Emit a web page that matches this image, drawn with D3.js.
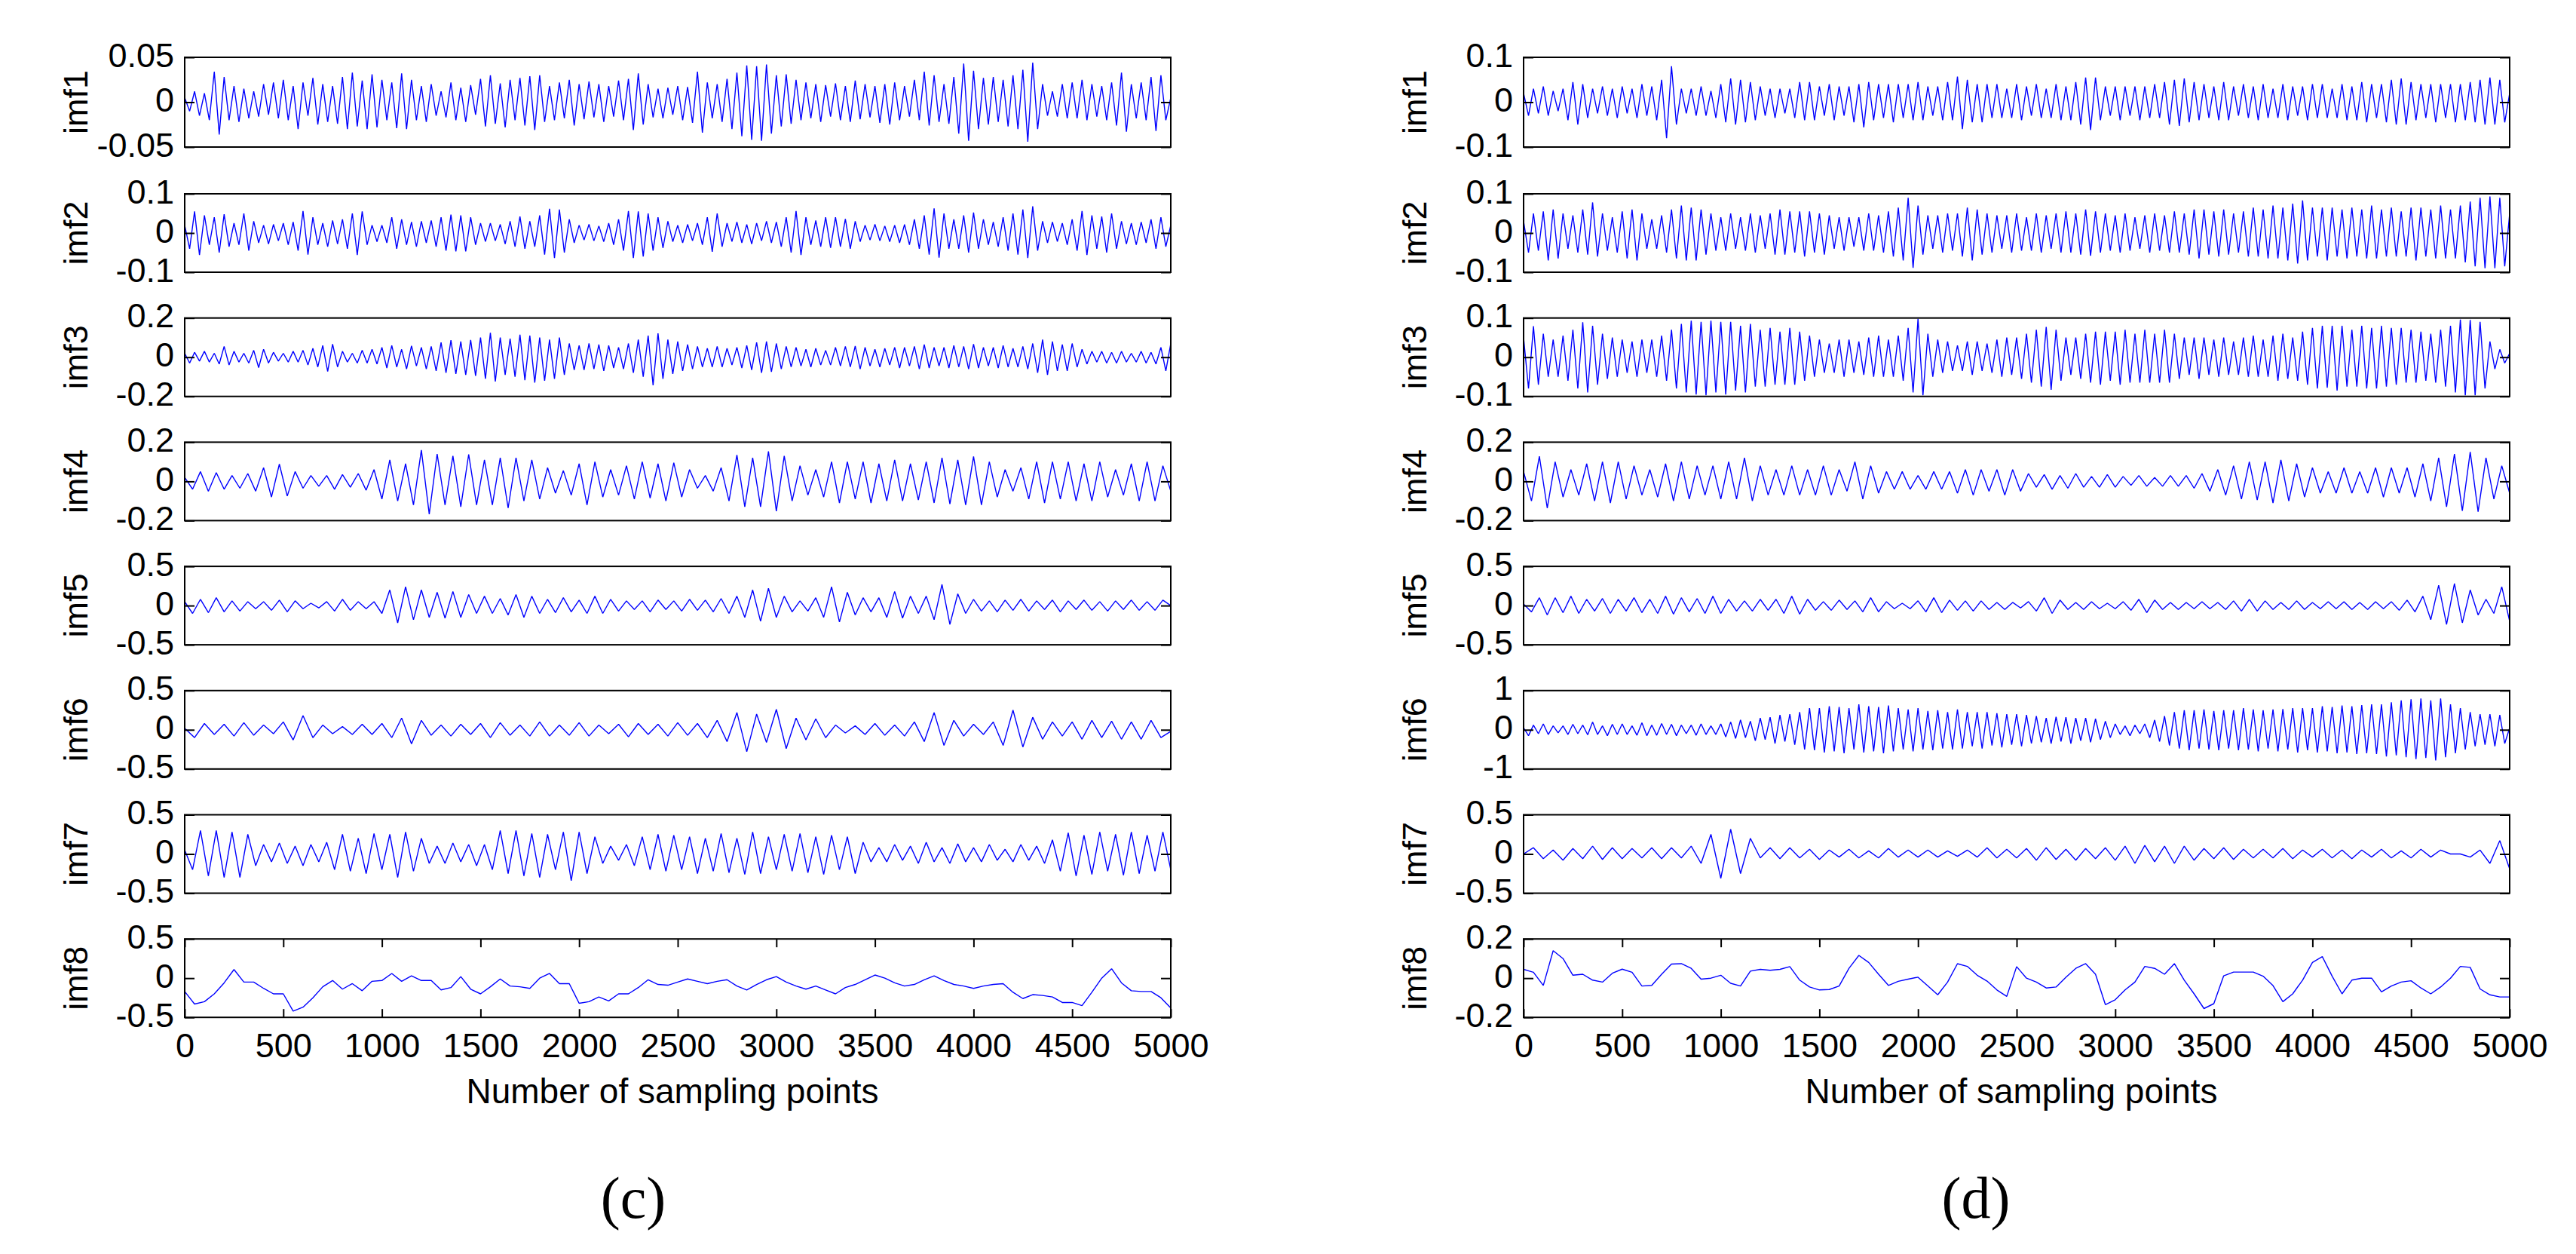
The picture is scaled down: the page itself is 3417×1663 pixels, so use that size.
<!DOCTYPE html>
<html>
<head>
<meta charset="utf-8">
<script src="https://cdn.jsdelivr.net/npm/d3@7"></script>
<style>
  body { margin: 0; background: #fff; }
</style>
</head>
<body>
<div id="chart"></div>
<script>
// DATOS
//////////////////////////////////////////////////////////
var imfNames = ["imf1","imf2","imf3","imf4","imf5","imf6","imf7","imf8"];
var xTicks = [0,500,1000,1500,2000,2500,3000,3500,4000,4500,5000];
var nSamples = 5000;
var xLabel = "Number of sampling points";

// limites del eje y (+-lim) de cada imf
var limC = [0.05,0.1,0.2,0.2,0.5,0.5,0.5,0.5];
var limD = [0.1,0.1,0.1,0.2,0.5,1,0.5,0.2];

// (c) valores, muestras equiespaciadas de 0 a 5000
var c_imf1 = [.005,-.01,.012,-.015,.01,-.02,.034,-.036,.028,-.02,.018,-.022,.015,-.018,.012,-.016,.02,-.014,.022,-.018,
.025,-.02,.018,-.03,.022,-.015,.027,-.025,.02,-.022,.018,-.024,.028,-.03,.033,-.027,.024,-.03,.031,-.028,
.025,-.02,.022,-.029,.032,-.03,.025,-.02,.018,-.022,.02,-.015,.012,-.017,.022,-.02,.016,-.022,.019,-.014,
.026,-.027,.03,-.024,.021,-.028,.025,-.02,.027,-.026,.029,-.031,.03,-.022,.018,-.02,.022,-.018,.025,-.026,
.02,-.019,.023,-.017,.02,-.022,.018,-.016,.024,-.02,.026,-.031,.032,-.025,.02,-.017,.015,-.018,.016,-.014,
.018,-.02,.017,-.023,.034,-.034,.022,-.018,.02,-.022,.026,-.03,.033,-.038,.041,-.042,.04,-.043,.042,-.035,
.03,-.027,.031,-.024,.025,-.02,.022,-.018,.02,-.022,.019,-.016,.021,-.02,.018,-.022,.024,-.019,.02,-.017,
.018,-.023,.02,-.025,.022,-.02,.018,-.016,.025,-.02,.034,-.026,.03,-.022,.02,-.024,.028,-.035,.043,-.043,
.035,-.03,.027,-.025,.028,-.022,.025,-.027,.03,-.03,.036,-.044,.044,-.03,.02,-.015,.012,-.016,.02,-.018,
.022,-.018,.025,-.02,.02,-.016,.018,-.02,.022,-.026,.033,-.033,.02,-.018,.022,-.02,.028,-.032,.03,-.02,
.005];
var c_imf2 = [.02,-.04,.055,-.056,.045,-.03,.04,-.05,.048,-.035,.025,-.03,.05,-.045,.03,-.025,.02,-.028,.022,-.02,
.025,-.03,.028,-.045,.056,-.055,.04,-.03,.025,-.035,.032,-.028,.035,-.04,.05,-.056,.055,-.03,.02,-.022,
.02,-.025,.04,-.04,.035,-.03,.028,-.035,.03,-.025,.032,-.035,.04,-.045,.047,-.047,.045,-.047,.04,-.03,
.025,-.022,.025,-.02,.022,-.028,.03,-.035,.042,-.04,.03,-.035,.045,-.055,.062,-.064,.06,-.05,.035,-.025,
.02,-.018,.022,-.02,.018,-.022,.025,-.03,.035,-.045,.056,-.064,.055,-.06,.05,-.045,.04,-.038,.03,-.022,
.02,-.025,.022,-.02,.025,-.03,.04,-.048,.05,-.035,.025,-.022,.028,-.025,.022,-.028,.025,-.02,.03,-.025,
.028,-.035,.04,-.05,.056,-.056,.04,-.03,.032,-.035,.04,-.038,.04,-.035,.036,-.04,.03,-.022,.02,-.018,
.022,-.02,.018,-.022,.02,-.025,.022,-.03,.035,-.04,.045,-.055,.063,-.063,.05,-.04,.035,-.04,.045,-.05,
.052,-.04,.035,-.03,.028,-.035,.04,-.045,.05,-.055,.06,-.064,.068,-.045,.03,-.025,.028,-.022,.025,-.03,
.035,-.045,.056,-.056,.045,-.04,.042,-.05,.05,-.04,.03,-.028,.025,-.03,.028,-.025,.035,-.04,.04,-.035,
.02];
var c_imf3 = [.02,-.03,.025,-.02,.03,-.025,.02,-.035,.055,-.04,.03,-.025,.02,-.03,.035,-.053,.04,-.03,.025,-.02,
.02,-.025,.03,-.025,.035,-.04,.045,-.05,.06,-.073,.067,-.05,.03,-.025,.02,-.03,.035,-.03,.04,-.035,
.05,-.055,.06,-.05,.04,-.06,.058,-.045,.05,-.06,.055,-.07,.075,-.08,.087,-.085,.08,-.09,.088,-.095,
.1,-.11,.125,-.124,.1,-.09,.095,-.1,.115,-.117,.11,-.13,.1,-.12,.09,-.11,.1,-.09,.07,-.065,
.06,-.065,.07,-.06,.065,-.07,.06,-.055,.05,-.06,.07,-.08,.09,-.1,.11,-.143,.122,-.11,.09,-.085,
.08,-.07,.065,-.06,.055,-.05,.045,-.05,.055,-.05,.045,-.04,.05,-.055,.06,-.065,.075,-.08,.08,-.075,
.07,-.06,.055,-.05,.05,-.045,.04,-.05,.045,-.04,.035,-.04,.05,-.045,.055,-.05,.057,-.06,.05,-.045,
.04,-.05,.045,-.04,.05,-.055,.05,-.045,.055,-.06,.065,-.055,.05,-.045,.05,-.055,.06,-.05,.055,-.06,
.067,-.055,.05,-.045,.05,-.055,.06,-.05,.045,-.05,.055,-.06,.07,-.08,.09,-.09,.08,-.07,.065,-.07,
.07,-.05,.04,-.035,.03,-.025,.03,-.03,.025,-.03,.03,-.025,.02,-.025,.03,-.03,.025,-.035,.05,-.07,
.07];
var c_imf4 = [.02,-.04,.05,-.05,.045,-.04,.03,-.035,.04,-.05,.07,-.08,.088,-.075,.05,-.035,.03,-.025,.03,-.04,.035,-.03,.04,-.045,.06,
-.09,.11,-.1,.09,-.12,.16,-.167,.14,-.12,.13,-.13,.138,-.12,.11,-.12,.12,-.136,.12,-.1,.11,-.09,.07,-.06,.055,-.07,
.09,-.12,.1,-.08,.06,-.07,.08,-.09,.1,-.085,.09,-.1,.095,-.08,.06,-.035,.03,-.05,.07,-.1,.135,-.13,.12,-.13,.153,
-.152,.13,-.1,.08,-.07,.06,-.08,.1,-.11,.1,-.09,.1,-.11,.09,-.1,.11,-.1,.09,-.095,.1,-.11,.12,-.115,.11,-.12,
.127,-.12,.1,-.08,.06,-.05,.07,-.09,.1,-.11,.1,-.09,.1,-.1,.09,-.1,.1,-.08,.06,-.07,.09,-.1,.1,-.1,.08,
-.05];
var c_imf5 = [.05,-.1,.08,-.09,.1,-.08,.06,-.07,.05,-.04,.05,-.06,.07,-.08,.06,-.04,.03,-.03,.05,-.07,.08,-.06,.05,-.04,.05,
-.1,.2,-.22,.24,-.18,.2,-.15,.17,-.16,.18,-.15,.14,-.1,.12,-.1,.09,-.12,.14,-.15,.12,-.1,.08,-.09,.1,-.08,
.07,-.1,.12,-.1,.08,-.07,.06,-.05,.06,-.08,.07,-.05,.06,-.07,.08,-.06,.07,-.08,.09,-.1,.12,-.15,.2,-.2,.22,
-.15,.12,-.08,.06,-.07,.1,-.15,.24,-.21,.17,-.12,.1,-.08,.1,-.15,.18,-.16,.12,-.1,.12,-.18,.27,-.24,.15,-.1,
.08,-.07,.06,-.08,.07,-.06,.08,-.07,.06,-.05,.07,-.08,.06,-.05,.07,-.06,.05,-.07,.06,-.05,.07,-.06,.05,-.06,.07,
0];
var c_imf6 = [.02,-.1,.08,-.06,.07,-.08,.09,-.07,.06,-.05,.1,-.13,.18,-.1,.06,-.05,.04,-.06,.07,-.06,
.08,-.1,.15,-.18,.12,-.07,.06,-.08,.07,-.06,.08,-.1,.09,-.07,.06,-.08,.1,-.08,.06,-.07,
.09,-.08,.06,-.05,.07,-.09,.08,-.06,.07,-.08,.09,-.07,.08,-.1,.12,-.15,.22,-.28,.2,-.16,
.26,-.24,.15,-.13,.14,-.1,.06,-.04,.05,-.06,.08,-.07,.06,-.08,.1,-.15,.22,-.2,.12,-.08,
.07,-.06,.1,-.2,.25,-.22,.16,-.12,.1,-.08,.1,-.12,.12,-.1,.11,-.12,.1,-.12,.12,-.1,
-.02];
var c_imf7 = [.05,-.2,.3,-.28,.3,-.3,.28,-.3,.25,-.15,.12,-.1,.14,-.12,.1,-.15,.12,-.1,.15,-.2,.25,-.22,.2,-.25,.26,
-.2,.25,-.3,.28,-.22,.2,-.12,.1,-.12,.14,-.1,.12,-.15,.12,-.2,.3,-.25,.3,-.28,.26,-.3,.25,-.2,.28,-.34,
.28,-.25,.22,-.12,.1,-.08,.12,-.15,.22,-.2,.25,-.22,.24,-.2,.22,-.25,.2,-.22,.26,-.24,.2,-.26,.28,-.25,.22,
-.2,.25,-.22,.26,-.24,.22,-.26,.24,-.2,.22,-.25,.15,-.1,.08,-.1,.12,-.08,.1,-.12,.15,-.1,.08,-.12,.13,-.1,
.08,-.1,.12,-.08,.06,-.1,.12,-.08,.1,-.12,.18,-.22,.27,-.28,.24,-.26,.28,-.22,.25,-.27,.28,-.25,.24,-.22,.28,
-.2];
var c_imf8 = [-.17,-.33,-.3,-.2,-.06,.11,-.05,-.05,-.13,-.2,-.2,-.42,-.37,-.25,-.11,-.03,-.14,-.07,-.16,-.04,
-.03,.06,-.04,.03,-.03,-.03,-.15,-.12,.02,-.14,-.2,-.11,-.01,-.1,-.11,-.13,0,.06,-.07,-.07,
-.32,-.3,-.24,-.29,-.2,-.2,-.12,-.02,-.08,-.09,-.05,-.01,-.04,-.07,-.04,-.02,-.1,-.15,-.08,-.02,
.02,-.05,-.1,-.14,-.1,-.15,-.2,-.12,-.08,-.02,.04,0,-.06,-.1,-.08,-.02,.03,-.03,-.08,-.1,
-.13,-.1,-.08,-.07,-.18,-.26,-.21,-.22,-.24,-.31,-.31,-.35,-.18,0,.12,-.06,-.16,-.17,-.17,-.25,
-.38];

// (d)
var d_imf1 = [.02,-.03,.03,-.025,.035,-.03,.025,-.02,.03,-.04,.045,-.05,.04,-.035,.03,-.025,.035,-.03,.03,-.035,
.035,-.025,.03,-.035,.04,-.03,.035,-.04,.05,-.08,.08,-.05,.03,-.025,.03,-.03,.035,-.03,.025,-.035,
.04,-.045,.053,-.05,.05,-.045,.045,-.04,.035,-.03,.03,-.035,.03,-.025,.03,-.035,.045,-.04,.045,-.04,
.035,-.03,.04,-.04,.035,-.03,.035,-.045,.04,-.056,.045,-.04,.04,-.035,.04,-.045,.04,-.035,.04,-.04,
.045,-.04,.035,-.03,.035,-.04,.045,-.04,.057,-.06,.05,-.045,.04,-.045,.04,-.035,.04,-.035,.03,-.035,
.04,-.04,.035,-.03,.04,-.035,.03,-.035,.04,-.04,.035,-.04,.045,-.05,.055,-.062,.055,-.04,.035,-.03,
.035,-.04,.035,-.03,.035,-.04,.035,-.035,.04,-.035,.045,-.05,.05,-.053,.053,-.045,.045,-.04,.04,-.035,
.035,-.04,.045,-.04,.035,-.03,.04,-.035,.035,-.04,.04,-.035,.03,-.035,.04,-.04,.035,-.03,.035,-.04,
.04,-.035,.04,-.035,.03,-.035,.04,-.04,.035,-.04,.045,-.045,.04,-.035,.04,-.045,.05,-.05,.053,-.05,
.045,-.04,.04,-.035,.04,-.045,.04,-.035,.04,-.045,.04,-.04,.045,-.045,.05,-.05,.055,-.05,.05,-.045,
.02];
var d_imf2 = [.03,-.05,.05,-.045,.055,-.07,.06,-.065,.05,-.04,.045,-.05,.06,-.055,.078,-.06,.05,-.045,.04,-.05,
.055,-.065,.06,-.07,.05,-.04,.035,-.04,.045,-.05,.06,-.065,.07,-.07,.065,-.07,.06,-.055,.05,-.045,
.04,-.045,.05,-.04,.04,-.045,.05,-.05,.045,-.04,.05,-.055,.06,-.055,.055,-.05,.055,-.06,.055,-.05,
.05,-.055,.045,-.04,.04,-.045,.04,-.035,.04,-.045,.05,-.045,.045,-.05,.055,-.06,.065,-.07,.09,-.089,
.07,-.055,.045,-.04,.045,-.05,.05,-.045,.05,-.06,.065,-.07,.06,-.055,.05,-.05,.045,-.04,.045,-.05,
.05,-.045,.04,-.045,.05,-.05,.045,-.04,.05,-.05,.055,-.05,.05,-.055,.06,-.058,.055,-.05,.05,-.045,
.045,-.05,.05,-.045,.04,-.04,.045,-.05,.05,-.045,.045,-.05,.055,-.05,.05,-.055,.06,-.065,.06,-.055,
.055,-.06,.06,-.055,.05,-.05,.055,-.06,.065,-.06,.06,-.065,.07,-.065,.065,-.07,.075,-.078,.083,-.07,
.065,-.06,.065,-.07,.065,-.06,.06,-.065,.065,-.06,.06,-.065,.07,-.065,.06,-.06,.065,-.06,.055,-.06,
.065,-.07,.065,-.06,.06,-.065,.07,-.065,.06,-.065,.07,-.075,.08,-.085,.09,-.09,.093,-.09,.09,-.085,
.05];
var d_imf3 = [.05,-.08,.079,-.07,.06,-.05,.045,-.05,.055,-.06,.07,-.08,.089,-.09,.08,-.07,.06,-.055,.05,-.05,
.045,-.04,.04,-.05,.045,-.04,.045,-.05,.055,-.06,.07,-.08,.085,-.09,.093,-.095,.09,-.097,.093,-.09,
.09,-.095,.09,-.085,.08,-.09,.085,-.075,.07,-.075,.075,-.07,.065,-.07,.075,-.07,.065,-.06,.055,-.05,
.045,-.04,.035,-.04,.045,-.05,.045,-.04,.04,-.045,.05,-.05,.055,-.05,.045,-.05,.055,-.06,.075,-.09,
.098,-.097,.06,-.05,.045,-.04,.04,-.035,.03,-.035,.04,-.045,.04,-.035,.035,-.04,.045,-.05,.05,-.045,
.05,-.055,.06,-.065,.07,-.075,.077,-.083,.07,-.06,.05,-.045,.05,-.055,.06,-.065,.065,-.07,.065,-.06,
.065,-.07,.07,-.065,.06,-.065,.07,-.065,.06,-.065,.07,-.065,.06,-.055,.05,-.045,.05,-.055,.05,-.045,
.045,-.05,.05,-.045,.04,-.045,.05,-.05,.055,-.05,.045,-.05,.055,-.06,.06,-.055,.05,-.06,.065,-.07,
.075,-.08,.08,-.078,.08,-.085,.08,-.075,.07,-.075,.08,-.08,.075,-.08,.08,-.075,.075,-.07,.075,-.065,
.07,-.065,.065,-.06,.06,-.065,.07,-.075,.08,-.09,.096,-.097,.095,-.097,.09,-.08,.04,-.03,.02,-.015,
.01];
var d_imf4 = [.05,-.1,.128,-.136,.1,-.08,.06,-.07,.09,-.1,.1,-.11,.1,-.09,.08,-.07,.06,-.08,.09,-.1,.1,-.09,.08,-.07,.08,
-.09,.1,-.09,.12,-.1,.08,-.07,.06,-.07,.08,-.07,.06,-.07,.08,-.07,.06,-.05,.1,-.09,.08,-.06,.05,-.04,.05,-.04,
.03,-.04,.05,-.04,.05,-.06,.06,-.07,.06,-.05,.06,-.07,.06,-.05,.04,-.03,.035,-.04,.03,-.035,.04,-.03,.025,-.03,.035,
-.03,.025,-.02,.03,-.025,.02,-.025,.03,-.025,.03,-.035,.04,-.05,.06,-.07,.08,-.09,.1,-.095,.1,-.11,.11,-.1,.09,-.08,
.07,-.06,.05,-.06,.07,-.06,.05,-.06,.07,-.08,.07,-.06,.07,-.08,.09,-.1,.12,-.13,.14,-.15,.15,-.155,.12,-.09,.08,
-.06];
var d_imf5 = [.02,-.08,.1,-.12,.1,-.09,.12,-.1,.08,-.07,.09,-.1,.08,-.07,.1,-.09,.08,-.1,.12,-.11,.1,-.08,.09,-.1,.12,
-.1,.08,-.07,.06,-.07,.08,-.06,.08,-.1,.12,-.11,.08,-.06,.05,-.06,.07,-.05,.06,-.08,.1,-.08,.05,-.04,.03,-.04,
.06,-.08,.1,-.09,.07,-.06,.06,-.07,.06,-.05,.04,-.05,.04,-.03,.05,-.07,.1,-.1,.07,-.05,.04,-.05,.05,-.04,.03,
-.04,.05,-.06,.08,-.09,.07,-.05,.04,-.05,.04,-.04,.05,-.04,.04,-.05,.06,-.07,.08,-.07,.06,-.05,.04,-.05,.06,-.05,
.04,-.04,.05,-.04,.05,-.05,.04,-.05,.05,-.04,.05,-.06,.07,-.08,.12,-.18,.26,-.24,.28,-.22,.2,-.12,.08,-.1,.24,
-.2];
var d_imf6 = [.05,-.15,.12,-.1,.15,-.12,.1,-.08,.1,-.12,.14,-.1,.12,-.13,.2,-.12,.1,-.15,.14,-.12,
.15,-.12,.1,-.14,.18,-.15,.12,-.14,.16,-.12,.14,-.15,.12,-.1,.12,-.14,.15,-.12,.1,-.12,
.15,-.18,.2,-.22,.25,-.2,.22,-.28,.3,-.25,.32,-.35,.38,-.3,.4,-.38,.45,-.5,.55,-.52,
.55,-.58,.6,-.55,.58,-.6,.55,-.5,.65,-.58,.6,-.55,.58,-.6,.62,-.55,.55,-.5,.52,-.55,
.55,-.5,.48,-.52,.5,-.48,.45,-.5,.52,-.48,.45,-.42,.45,-.48,.45,-.4,.42,-.45,.4,-.38,
.4,-.42,.38,-.35,.35,-.32,.3,-.35,.33,-.3,.32,-.35,.3,-.28,.3,-.32,.28,-.25,.22,-.2,
.15,-.12,.1,-.15,.12,-.1,.15,-.2,.25,-.3,.35,-.4,.45,-.48,.5,-.52,.5,-.48,.52,-.5,
.48,-.52,.5,-.48,.5,-.52,.55,-.5,.52,-.55,.5,-.48,.52,-.55,.53,-.5,.55,-.58,.55,-.52,
.55,-.58,.6,-.55,.58,-.6,.62,-.58,.6,-.62,.63,-.6,.65,-.62,.65,-.68,.7,-.65,.75,-.7,
.78,-.75,.8,-.72,.75,-.78,.8,-.7,.65,-.6,.55,-.5,.45,-.42,.4,-.38,.4,-.42,.38,-.35,
.05];
var d_imf7 = [0,.08,-.06,.05,-.08,.07,-.06,.1,-.07,.08,-.06,.07,-.05,.08,-.06,.08,-.05,.1,-.12,.25,
-.31,.315,-.25,.2,-.05,.08,-.06,.08,-.05,.06,-.07,.05,-.04,.06,-.05,.04,-.05,.07,-.04,.05,
-.04,.05,-.04,.04,-.03,.05,-.04,.08,-.05,.06,-.05,.07,-.08,.08,-.07,.06,-.08,.07,-.06,.08,
-.08,.1,-.12,.11,-.1,.1,-.12,.1,-.08,.07,-.06,.08,-.07,.06,-.05,.06,-.05,.07,-.06,.05,
-.04,.06,-.05,.05,-.06,.05,-.04,.06,-.05,.04,-.05,.06,-.04,.05,0,0,-.04,.05,-.12,.17,
-.19];
var d_imf8 = [.045,.03,-.037,.14,.1,.015,.02,-.01,-.02,.025,.046,.03,-.04,-.037,.02,.072,.074,.05,-.005,0,
.015,-.026,-.04,.036,.045,.04,.045,.059,-.01,-.045,-.06,-.058,-.04,.05,.116,.08,.02,-.037,-.016,-.005,
.005,-.04,-.085,-.02,.074,.06,.015,-.015,-.06,-.093,.059,0,-.02,-.05,-.045,.005,.05,.074,.02,-.135,
-.11,-.06,-.02,.06,.05,.02,.074,-.01,-.08,-.155,-.13,.012,.031,.031,.031,.01,-.038,-.12,-.08,-.01,
.08,.11,.01,-.08,-.01,0,0,-.07,-.04,-.02,-.013,-.05,-.08,-.045,0,.06,.055,-.055,-.085,-.096,
-.096];

var panelC = [c_imf1,c_imf2,c_imf3,c_imf4,c_imf5,c_imf6,c_imf7,c_imf8];
var panelD = [d_imf1,d_imf2,d_imf3,d_imf4,d_imf5,d_imf6,d_imf7,d_imf8];

// LAYOUT
//////////////////////////////////////////////////////////
var width = 3417, height = 1663;
var rowTop = [76, 257, 421.7, 586.4, 751.1, 915.8, 1080.5, 1245.2];
var rowBot = [195, 361, 525.7, 690.4, 855.1, 1019.8, 1184.5, 1349.2];
var fontSans = "'Liberation Sans', Arial, sans-serif";

var panels = [
  {left: 245,  right: 1553, series: panelC, lims: limC, tag: "(c)", tagX: 840},
  {left: 2021, right: 3329, series: panelD, lims: limD, tag: "(d)", tagX: 2621}
];

var svg = d3.select("#chart")
  .append("svg")
  .attr("width", width)
  .attr("height", height)
  .style("background", "#fff");

function fmt(d) { return d === 0 ? "0" : String(d); }

function styleAxis(g) {
  g.select(".domain").remove();
  g.selectAll("line").attr("stroke", "#000").attr("stroke-width", 2);
  g.selectAll("text").attr("fill", "#000")
    .style("font-family", fontSans).style("font-size", "45px");
}

panels.forEach(function(p) {
  var eX = d3.scaleLinear().domain([0, nSamples]).range([p.left, p.right]);

  p.series.forEach(function(vals, k) {
    var lim = p.lims[k];
    var eY = d3.scaleLinear().domain([-lim, lim]).range([rowBot[k], rowTop[k]]);
    var n = vals.length;

    // señal
    var line = d3.line()
      .x(function(d, i) { return eX(i * nSamples / (n - 1)); })
      .y(function(d) { return eY(d); });

    svg.append("path")
      .datum(vals)
      .attr("d", line)
      .attr("fill", "none")
      .attr("stroke", "#0000ff")
      .attr("stroke-width", 1.4)
      .attr("stroke-linejoin", "bevel");

    // eje y izquierdo (ticks hacia dentro) y derecho
    var yAxis = d3.axisLeft(eY).tickValues([-lim, 0, lim]).tickFormat(fmt)
      .tickSizeInner(-13).tickSizeOuter(0).tickPadding(14);
    var gy = svg.append("g")
      .attr("transform", "translate(" + p.left + ",0)")
      .call(yAxis);
    styleAxis(gy);
    gy.selectAll("text").attr("dy", "12px");

    var yAxisR = d3.axisRight(eY).tickValues([-lim, 0, lim]).tickFormat("")
      .tickSizeInner(-13).tickSizeOuter(0);
    var gyr = svg.append("g")
      .attr("transform", "translate(" + p.right + ",0)")
      .call(yAxisR);
    styleAxis(gyr);

    // caja
    svg.append("rect")
      .attr("x", p.left).attr("y", rowTop[k])
      .attr("width", p.right - p.left).attr("height", rowBot[k] - rowTop[k])
      .attr("fill", "none").attr("stroke", "#000").attr("stroke-width", 2);

    // etiqueta imfN
    svg.append("text")
      .attr("transform", "translate(" + (p.left - 129) + "," + ((rowTop[k] + rowBot[k]) / 2) + ") rotate(-90)")
      .attr("text-anchor", "middle")
      .style("font-family", fontSans).style("font-size", "45px")
      .text(imfNames[k]);

    // eje x solo en la ultima fila
    if (k === p.series.length - 1) {
      var xAxis = d3.axisBottom(eX).tickValues(xTicks).tickFormat(fmt)
        .tickSizeInner(-11).tickSizeOuter(0).tickPadding(21);
      var gx = svg.append("g")
        .attr("transform", "translate(0," + rowBot[k] + ")")
        .call(xAxis);
      styleAxis(gx);

      var xAxisT = d3.axisTop(eX).tickValues(xTicks).tickFormat("")
        .tickSizeInner(-11).tickSizeOuter(0);
      var gxt = svg.append("g")
        .attr("transform", "translate(0," + rowTop[k] + ")")
        .call(xAxisT);
      styleAxis(gxt);
    }
  });

  // titulo eje x
  svg.append("text")
    .attr("x", (p.left + p.right) / 2 - 7)
    .attr("y", 1463)
    .attr("text-anchor", "middle")
    .style("font-family", fontSans).style("font-size", "46px")
    .text(xLabel);

  // (c) / (d)
  svg.append("text")
    .attr("x", p.tagX)
    .attr("y", 1615)
    .attr("text-anchor", "middle")
    .style("font-family", "'Liberation Serif', 'Times New Roman', serif")
    .style("font-size", "78px")
    .text(p.tag);
});
</script>
</body>
</html>
